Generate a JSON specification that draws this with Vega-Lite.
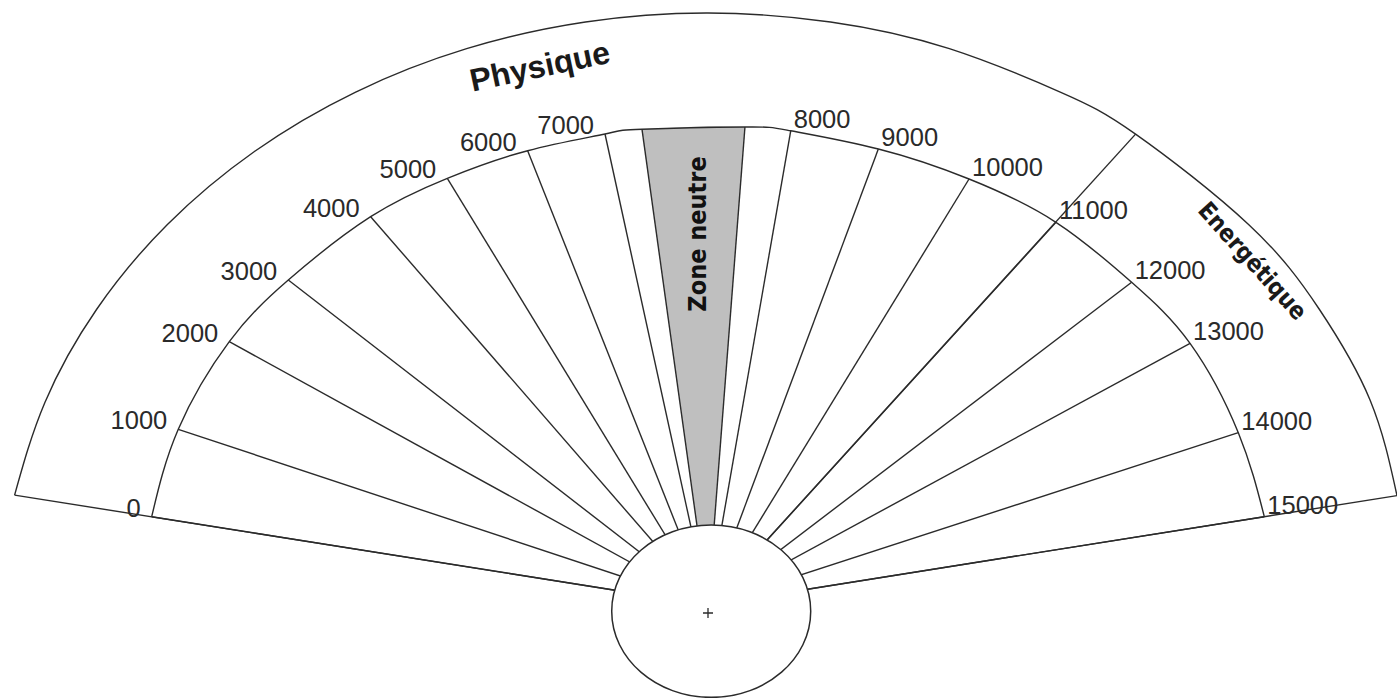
{
  "$schema": "https://vega.github.io/schema/vega-lite/v6.json",
  "width": 1397,
  "height": 698,
  "padding": 0,
  "autosize": {"type": "none"},
  "background": "white",
  "config": {"view": {"stroke": null}},
  "datasets": {
    "graduations": [
      {"value": 0, "kind": "tick", "x": -466.7, "y": 88.3},
      {"value": 1000, "kind": "tick", "x": -444.4, "y": 175.7},
      {"value": 2000, "kind": "tick", "x": -401.6, "y": 263.3},
      {"value": 3000, "kind": "tick", "x": -352.1, "y": 325.0},
      {"value": 4000, "kind": "tick", "x": -283.0, "y": 388.3},
      {"value": 5000, "kind": "tick", "x": -218.7, "y": 426.7},
      {"value": 6000, "kind": "tick", "x": -151.3, "y": 454.3},
      {"value": 7000, "kind": "tick", "x": -86.4, "y": 471.0},
      {"value": null, "kind": "neutral", "x": -55.4, "y": 475.8},
      {"value": null, "kind": "neutral", "x": 31.0, "y": 478.0},
      {"value": 8000, "kind": "tick", "x": 69.4, "y": 474.2},
      {"value": 9000, "kind": "tick", "x": 142.9, "y": 456.0},
      {"value": 10000, "kind": "tick", "x": 219.0, "y": 426.0},
      {"value": 11000, "kind": "tick", "x": 291.9, "y": 382.7},
      {"value": 12000, "kind": "tick", "x": 355.4, "y": 322.7},
      {"value": 13000, "kind": "tick", "x": 404.4, "y": 261.7},
      {"value": 14000, "kind": "tick", "x": 444.9, "y": 172.3},
      {"value": 15000, "kind": "tick", "x": 466.7, "y": 88.3}
    ],
    "outerArc": [
      {"x": -581.7, "y": 109.9},
      {"x": -556.3, "y": 202.5},
      {"x": -512.7, "y": 296.0},
      {"x": -453.5, "y": 380.5},
      {"x": -380.5, "y": 453.5},
      {"x": -296.0, "y": 512.7},
      {"x": -202.5, "y": 556.3},
      {"x": -102.8, "y": 583.0},
      {"x": 0, "y": 592.0},
      {"x": 102.8, "y": 583.0},
      {"x": 202.5, "y": 556.3},
      {"x": 296.0, "y": 512.7},
      {"x": 358.7, "y": 470.9},
      {"x": 453.5, "y": 380.5},
      {"x": 512.7, "y": 296.0},
      {"x": 555.4, "y": 205.0},
      {"x": 578.0, "y": 109.4}
    ],
    "dividers": [
      {"x": -581.7, "y": 109.9},
      {"x": 358.7, "y": 470.9},
      {"x": 578.0, "y": 109.4}
    ],
    "neutralZone": [
      {"x": -55.4, "y": 475.8, "yt": 475.8},
      {"x": 0, "y": 0, "yt": 479.0},
      {"x": 31.0, "y": 478.0, "yt": 478.0}
    ],
    "hub": [{"x": 2.7, "y": -6.2}],
    "centre": [{"x": 0, "y": -8}],
    "zones": [
      {"name": "Physique", "x": -139.3, "y": 528},
      {"name": "Energétique", "x": 456.1, "y": 343.3},
      {"name": "Zone neutre", "x": -8.4, "y": 371}
    ]
  },
  "encoding": {
    "x": {"field": "x", "type": "quantitative", "scale": {"domain": [-593.96, 578.02], "nice": false, "zero": false}, "axis": null},
    "y": {"field": "y", "type": "quantitative", "scale": {"domain": [-93, 605], "nice": false, "zero": false}, "axis": null}
  },
  "layer": [
    {
      "data": {"name": "neutralZone"},
      "mark": {"type": "area", "orient": "vertical", "color": "#bfbfbf", "opacity": 1},
      "encoding": {"y2": {"field": "yt"}}
    },
    {
      "data": {"name": "graduations"},
      "mark": {"type": "rule", "color": "#2b2b2b", "strokeWidth": 1.4, "clip": true},
      "encoding": {"x2": {"datum": 0}, "y2": {"datum": 0}}
    },
    {
      "data": {"name": "dividers"},
      "mark": {"type": "rule", "color": "#2b2b2b", "strokeWidth": 1.4, "clip": true},
      "encoding": {"x2": {"datum": 0}, "y2": {"datum": 0}}
    },
    {
      "data": {"name": "graduations"},
      "mark": {"type": "line", "interpolate": "natural", "color": "#2b2b2b", "strokeWidth": 1.4, "clip": true},
      "encoding": {"order": {"field": "x"}}
    },
    {
      "data": {"name": "outerArc"},
      "mark": {"type": "line", "interpolate": "natural", "color": "#2b2b2b", "strokeWidth": 1.4, "clip": true},
      "encoding": {"order": {"field": "x"}}
    },
    {
      "data": {"name": "hub"},
      "mark": {"type": "point", "shape": "M -1 0 A 1 0.866 0 1 0 1 0 A 1 0.866 0 1 0 -1 0 Z", "size": 39601, "filled": true, "fill": "white", "stroke": "#2b2b2b", "strokeWidth": 1.5, "opacity": 1, "clip": true}
    },
    {
      "data": {"name": "centre"},
      "mark": {"type": "point", "shape": "M -1 0 L 1 0 M 0 -1 L 0 1", "size": 100, "filled": false, "stroke": "#2b2b2b", "strokeWidth": 1.3, "opacity": 1}
    },
    {
      "data": {"name": "graduations"},
      "transform": [{"filter": "datum.kind === 'tick' && datum.value <= 7000"}],
      "mark": {"type": "text", "align": "right", "baseline": "alphabetic", "dx": -11, "fontSize": 25.5, "font": "Liberation Sans, Arial, sans-serif", "color": "#2a2a2a"},
      "encoding": {"text": {"field": "value", "type": "quantitative", "format": "d"}}
    },
    {
      "data": {"name": "graduations"},
      "transform": [{"filter": "datum.kind === 'tick' && datum.value >= 8000"}],
      "mark": {"type": "text", "align": "left", "baseline": "alphabetic", "dx": 3, "dy": -3, "fontSize": 25.5, "font": "Liberation Sans, Arial, sans-serif", "color": "#2a2a2a"},
      "encoding": {"text": {"field": "value", "type": "quantitative", "format": "d"}}
    },
    {
      "data": {"name": "zones"},
      "transform": [{"filter": "datum.name === 'Physique'"}],
      "mark": {"type": "text", "align": "center", "baseline": "alphabetic", "angle": -12, "fontSize": 32, "fontWeight": "bold", "font": "Liberation Sans, Arial, sans-serif", "color": "#1a1a1a"},
      "encoding": {"text": {"field": "name"}}
    },
    {
      "data": {"name": "zones"},
      "transform": [{"filter": "datum.name === 'Energétique'"}],
      "mark": {"type": "text", "align": "center", "baseline": "middle", "angle": 48, "fontSize": 24, "fontWeight": "bold", "font": "DejaVu Sans Condensed, sans-serif", "color": "#1a1a1a"},
      "encoding": {"text": {"field": "name"}}
    },
    {
      "data": {"name": "zones"},
      "transform": [{"filter": "datum.name === 'Zone neutre'"}],
      "mark": {"type": "text", "align": "center", "baseline": "middle", "angle": -90, "fontSize": 25, "fontWeight": "bold", "font": "DejaVu Sans Condensed, sans-serif", "color": "#111111"},
      "encoding": {"text": {"field": "name"}}
    }
  ]
}
